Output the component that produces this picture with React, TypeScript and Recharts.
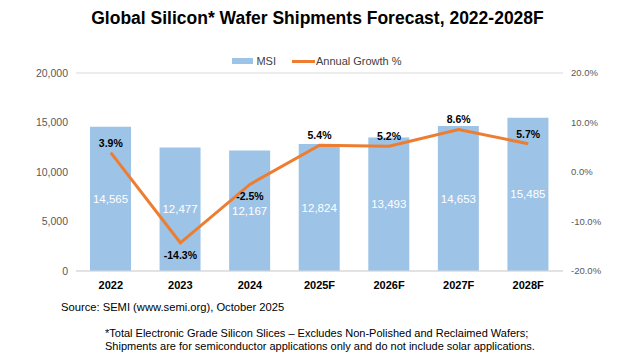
import {
  ComposedChart,
  Bar,
  Line,
  XAxis,
  YAxis,
  CartesianGrid,
  LabelList,
  Legend,
} from "recharts";

const years = ["2022", "2023", "2024", "2025F", "2026F", "2027F", "2028F"];
const msi = [14565, 12477, 12167, 12824, 13493, 14653, 15485];
const growth = [3.9, -14.3, -2.5, 5.4, 5.2, 8.6, 5.7];

const msiTicks = [0, 5000, 10000, 15000, 20000];
const growthTicks = [-20, -10, 0, 10, 20];

const data = years.map((year, i) => ({
  year,
  msi: msi[i],
  growth: growth[i],
}));

const FONT = "'Liberation Sans', Arial, sans-serif";
const BAR = "#9dc3e6";
const LINE = "#ed7d31";

// growth labels sit above the point, negatives go below
const GrowthLabel = (props: any) => {
  const { x, y, value } = props;
  const below = value < 0;
  return (
    <text
      x={x}
      y={below ? y + 12 : y - 10}
      textAnchor="middle"
      dominantBaseline="central"
      fontSize={10.5}
      fontWeight="bold"
      fill="#000"
      fontFamily={FONT}
    >
      {`${value.toFixed(1)}%`}
    </text>
  );
};

const LegendContent = () => (
  <div
    style={{
      display: "flex",
      justifyContent: "center",
      alignItems: "center",
      fontSize: 11,
      color: "#404040",
      fontFamily: FONT,
      paddingLeft: 3,
    }}
  >
    <span
      style={{ width: 21, height: 6, background: BAR, display: "inline-block", marginRight: 3 }}
    />
    <span style={{ marginRight: 16 }}>MSI</span>
    <span
      style={{ width: 23, height: 3, background: LINE, display: "inline-block", marginRight: 1 }}
    />
    <span>Annual Growth %</span>
  </div>
);

export default function App() {
  return (
    <div
      style={{
        position: "absolute",
        left: 0,
        top: 0,
        width: 631,
        height: 356,
        background: "#fff",
        fontFamily: FONT,
      }}
    >
      <div
        style={{
          position: "absolute",
          top: 7,
          left: 2,
          width: 631,
          textAlign: "center",
          fontSize: 17.5,
          fontWeight: "bold",
          lineHeight: "22px",
          color: "#000",
        }}
      >
        Global Silicon* Wafer Shipments Forecast, 2022-2028F
      </div>
      <ComposedChart
        width={631}
        height={356}
        data={data}
        margin={{ top: 73, right: 0, bottom: 60, left: 0 }}
      >
        <CartesianGrid vertical={false} stroke="#d9d9d9" />
        <XAxis
          dataKey="year"
          axisLine={{ stroke: "#d9d9d9" }}
          tickLine={false}
          tickMargin={4}
          height={25}
          tick={{ fontSize: 11, fontWeight: "bold", fill: "#000", fontFamily: FONT }}
        />
        <YAxis
          yAxisId="left"
          width={76}
          domain={[0, 20000]}
          ticks={msiTicks}
          axisLine={false}
          tickLine={false}
          tickFormatter={(v: number) => v.toLocaleString("en-US")}
          tick={{ fontSize: 10.5, fill: "#595959", fontFamily: FONT }}
        />
        <YAxis
          yAxisId="right"
          orientation="right"
          width={68}
          domain={[-20, 20]}
          ticks={growthTicks}
          axisLine={false}
          tickLine={false}
          tickFormatter={(v: number) => `${v.toFixed(1)}%`}
          tick={{ fontSize: 9.5, fill: "#595959", fontFamily: FONT }}
        />
        <Legend
          layout="horizontal"
          verticalAlign="middle"
          wrapperStyle={{ top: 55, left: 0, width: 631 }}
          content={<LegendContent />}
        />
        <Bar
          yAxisId="left"
          dataKey="msi"
          name="MSI"
          fill={BAR}
          barSize={41}
          isAnimationActive={false}
        >
          <LabelList
            dataKey="msi"
            position="center"
            fill="#fff"
            fontSize={11.5}
            fontFamily={FONT}
            formatter={(v: any) => Number(v).toLocaleString("en-US")}
          />
        </Bar>
        <Line
          yAxisId="right"
          dataKey="growth"
          name="Annual Growth %"
          stroke={LINE}
          strokeWidth={3}
          dot={false}
          isAnimationActive={false}
        >
          <LabelList dataKey="growth" content={<GrowthLabel />} />
        </Line>
      </ComposedChart>
      <div
        style={{
          position: "absolute",
          left: 61,
          top: 300,
          fontSize: 11.2,
          color: "#000",
          lineHeight: "15px",
        }}
      >
        Source: SEMI (www.semi.org), October 2025
      </div>
      <div
        style={{
          position: "absolute",
          left: 105,
          top: 327,
          fontSize: 11,
          color: "#000",
          lineHeight: "13px",
        }}
      >
        *Total Electronic Grade Silicon Slices – Excludes Non-Polished and Reclaimed Wafers;
        <br />
        Shipments are for semiconductor applications only and do not include solar applications.
      </div>
    </div>
  );
}
